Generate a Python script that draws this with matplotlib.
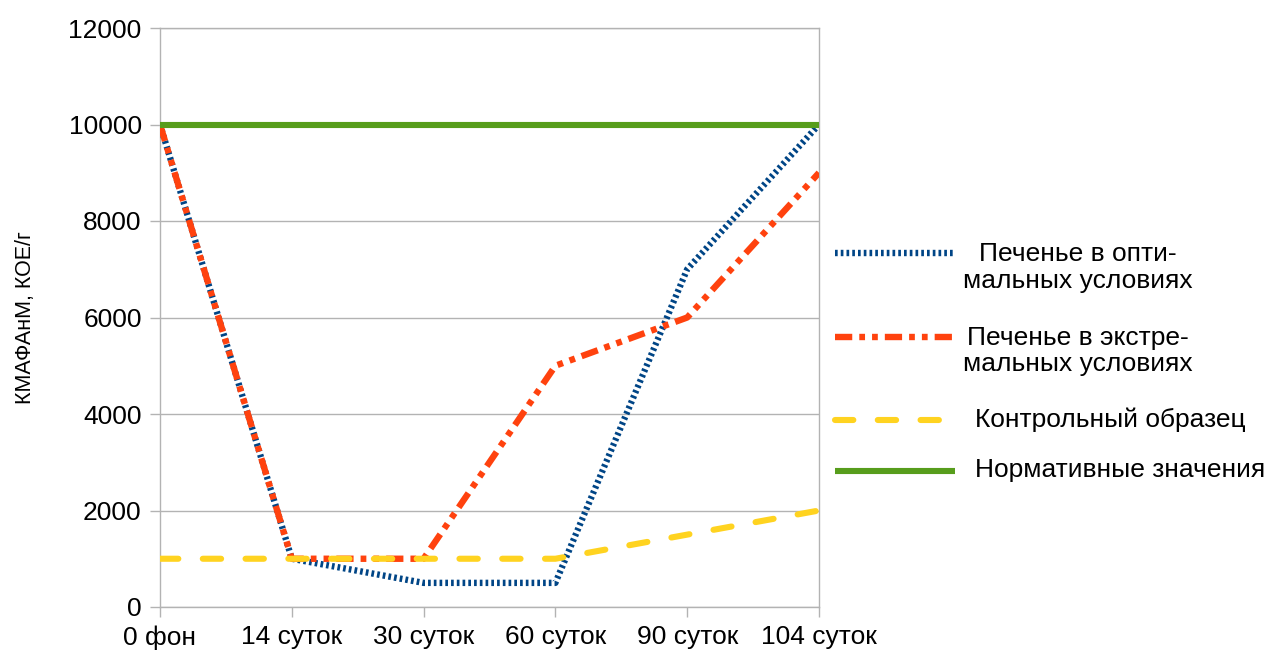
import matplotlib
matplotlib.use("Agg")
import matplotlib.pyplot as plt
from matplotlib.lines import Line2D

plt.rcParams['font.family'] = ['Liberation Sans', 'DejaVu Sans']

days = ["0 фон", "14 суток", "30 суток", "60 суток", "90 суток", "104 суток"]
optimal = [10000, 1000, 500, 500, 7000, 10000]
extreme = [10000, 1000, 1000, 5000, 6000, 9000]
control = [1000, 1000, 1000, 1000, 1500, 2000]
norm = [10000, 10000, 10000, 10000, 10000, 10000]

names = ["Печенье в опти-\nмальных условиях",
         "Печенье в экстре-\nмальных условиях",
         "Контрольный образец",
         "Нормативные значения"]

W, H = 1269, 655
fig = plt.figure(figsize=(W / 100, H / 100), dpi=100)
ax = fig.add_axes([160 / W, 1 - 607 / H, (819 - 160) / W, (607 - 28) / H])

x = range(len(days))
styles = [
    dict(color="#004586", lw=4.6, dashes=(0.42, 0.48), dash_capstyle="butt"),
    dict(color="#ff420e", lw=4.6, dashes=(2.7, 1.1, 0.9, 1.1, 0.9, 1.1), dash_capstyle="butt"),
    dict(color="#ffd320", lw=4.4, dashes=(3.0, 4.0), dash_capstyle="round"),
    dict(color="#579d1c", lw=4.4, solid_capstyle="butt"),
]
series = [optimal, extreme, control, norm]
for vals, st in zip(series, styles):
    ax.plot(x, vals, zorder=3, **st)

ax.set_xlim(0, 5)
ax.set_ylim(0, 12000)
ax.set_yticks(range(0, 12001, 2000))
ax.set_xticks(list(x))
ax.set_xticklabels(days)
ax.yaxis.grid(True, color="#b3b3b3", lw=1.0)
ax.set_axisbelow(True)
for sp in ax.spines.values():
    sp.set_color("#b3b3b3")
    sp.set_linewidth(1.0)
ax.tick_params(axis="both", which="major", length=7.2, width=1.0, color="#b3b3b3",
               labelsize=19, pad=6)
ax.set_ylabel("КМАФАнМ, КОЕ/г", fontsize=15.5, labelpad=23)

# legend drawn by hand so the key line sits on the first text row
key_y = [253, 337, 420, 471]
text_y = [267.5, 351, 420, 470]
text_x = [963, 963, 975, 975]
for st, name, ky, ty, tx in zip(styles, names, key_y, text_y, text_x):
    ln = Line2D([835 / W, 955 / W], [1 - ky / H, 1 - ky / H], transform=fig.transFigure, **st)
    fig.add_artist(ln)
    fig.text(tx / W, 1 - ty / H, name, fontsize=19, ha="left", va="center",
             multialignment="center", linespacing=1.15)

fig.savefig("out.png", dpi=100)
